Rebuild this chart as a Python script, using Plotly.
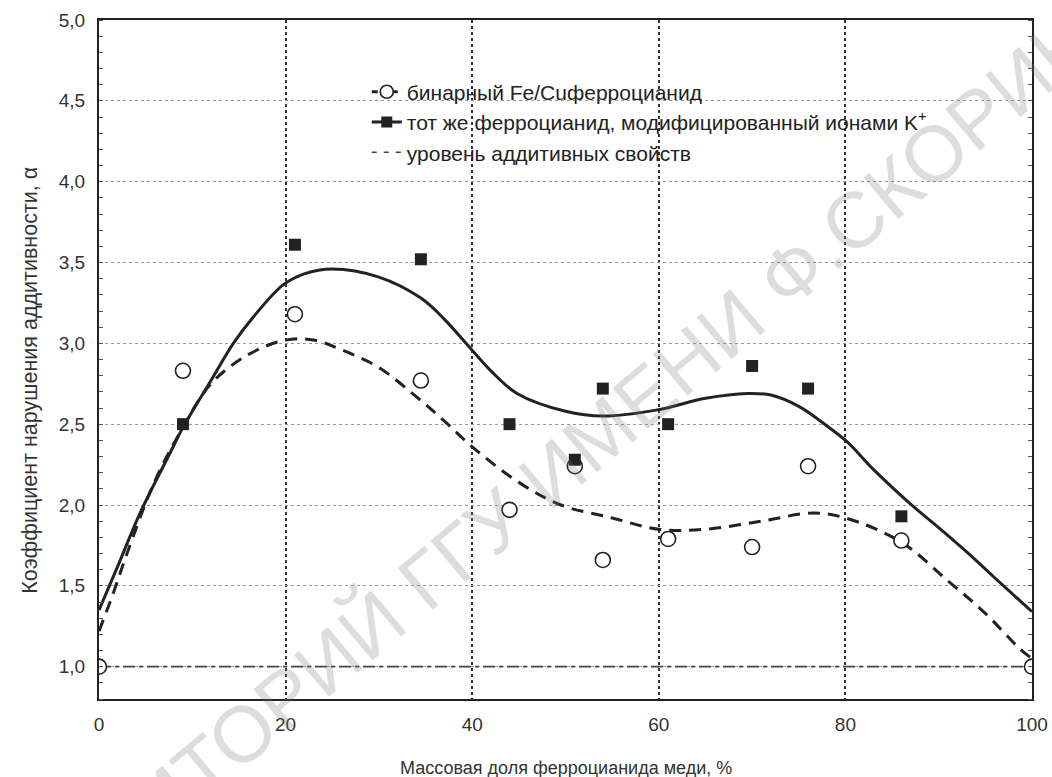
import plotly.graph_objects as go

# --- data ---
x_pts = [0, 9, 21, 34.5, 44, 51, 54, 61, 70, 76, 86, 100]
binary_y = [1.0, 2.83, 3.18, 2.77, 1.97, 2.24, 1.66, 1.79, 1.74, 2.24, 1.78, 1.0]

mod_x = [9, 21, 34.5, 44, 51, 54, 61, 70, 76, 86]
mod_y = [2.50, 3.61, 3.52, 2.50, 2.28, 2.72, 2.50, 2.86, 2.72, 1.93]

mod_fit_x = [0, 2, 4.4, 7.6, 9, 12, 14.4, 16.5, 19.7, 22, 25, 30, 34.5, 37, 39.8, 42, 44.8,
             50, 54, 60, 65, 69.5, 72, 75, 78, 80.2, 83, 86.9, 90, 93, 96, 100]
mod_fit_y = [1.35, 1.62, 1.95, 2.32, 2.48, 2.77, 3.0, 3.16, 3.36, 3.43, 3.46, 3.41, 3.28, 3.15, 2.97,
             2.83, 2.69, 2.58, 2.55, 2.59, 2.66, 2.69, 2.68, 2.61, 2.49, 2.39, 2.22, 2.01, 1.86,
             1.71, 1.55, 1.34]

bin_fit_x = [0, 1.5, 3, 6, 9, 12, 16, 20, 23, 26, 30, 34, 37, 40, 45, 49.5, 55, 60, 65, 71,
             76.5, 80, 86, 91, 95, 98.7, 100]
bin_fit_y = [1.22, 1.45, 1.70, 2.15, 2.48, 2.75, 2.93, 3.02, 3.02, 2.96, 2.85, 2.67, 2.52, 2.36,
             2.14, 2.0, 1.92, 1.85, 1.85, 1.9, 1.95, 1.92, 1.77, 1.53, 1.33, 1.11, 1.05]

additive_x = [0, 100]
additive_y = [1.0, 1.0]

x_ticks = [0, 20, 40, 60, 80, 100]
y_ticks = [1.0, 1.5, 2.0, 2.5, 3.0, 3.5, 4.0, 4.5, 5.0]

legend_names = ["бинарный Fe/Cuферроцианид",
                "тот же ферроцианид, модифицированный ионами K<sup>+</sup>",
                "уровень аддитивных свойств"]

INK = "#222222"
DASH = "12px,8px"
ADD_DASH = "12px,4px,4px,4px"

fig = go.Figure()

fig.add_trace(go.Scatter(x=additive_x, y=additive_y, mode="lines",
                         line=dict(color="#444444", width=1.6, dash=ADD_DASH),
                         showlegend=False, hoverinfo="skip"))
fig.add_trace(go.Scatter(x=bin_fit_x, y=bin_fit_y, mode="lines", line_shape="spline",
                         line=dict(color=INK, width=3, dash=DASH),
                         showlegend=False, hoverinfo="skip"))
fig.add_trace(go.Scatter(x=mod_fit_x, y=mod_fit_y, mode="lines", line_shape="spline",
                         line=dict(color=INK, width=3),
                         showlegend=False, hoverinfo="skip"))
fig.add_trace(go.Scatter(x=x_pts, y=binary_y, mode="markers",
                         marker=dict(symbol="circle", size=15, color="white",
                                     line=dict(color=INK, width=1.6)),
                         showlegend=False))
fig.add_trace(go.Scatter(x=mod_x, y=mod_y, mode="markers",
                         marker=dict(symbol="square", size=12, color=INK,
                                     line=dict(color=INK, width=0)),
                         showlegend=False))

# legend-only entries
fig.add_trace(go.Scatter(x=[None], y=[None], mode="lines+markers", name=legend_names[0],
                         line=dict(color=INK, width=3, dash="6px,4px"),
                         marker=dict(symbol="circle", size=13, color="white",
                                     line=dict(color=INK, width=1.6))))
fig.add_trace(go.Scatter(x=[None], y=[None], mode="lines+markers", name=legend_names[1],
                         line=dict(color=INK, width=3),
                         marker=dict(symbol="square", size=11, color=INK)))
fig.add_trace(go.Scatter(x=[None], y=[None], mode="lines", name=legend_names[2],
                         line=dict(color="#444444", width=1.5, dash="5px,7px")))

fig.update_layout(
    width=1052, height=777,
    margin=dict(l=99, r=20, t=20, b=78, autoexpand=False),
    paper_bgcolor="white", plot_bgcolor="white",
    separators=", ",
    font=dict(family="Liberation Sans, Arial, sans-serif", color="#222222"),
    showlegend=True,
    legend=dict(x=0.287, y=0.924, xanchor="left", yanchor="top",
                bgcolor="rgba(0,0,0,0)", borderwidth=0,
                font=dict(size=21, color="#222222"),
                traceorder="normal", itemwidth=30),
)

fig.update_xaxes(range=[0, 100], tickvals=x_ticks, ticks="", automargin=False,
                 showline=True, linecolor=INK, linewidth=2, mirror=True,
                 showgrid=True, gridcolor="#333333", griddash="dot", gridwidth=1.5,
                 zeroline=False, ticklabelstandoff=7,
                 tickfont=dict(size=19, color="#333333"))
fig.update_yaxes(range=[0.8, 5.0], tickvals=y_ticks, tickformat=".1f", ticks="", automargin=False,
                 showline=True, linecolor=INK, linewidth=2, mirror="ticks",
                 showgrid=True, gridcolor="#9a9a9a", griddash="dot", gridwidth=1,
                 zeroline=False, ticklabelstandoff=8,
                 tickfont=dict(size=19, color="#333333"),
                 minor=dict(dtick=0.1, ticks="inside", ticklen=4, tickcolor="#555555",
                            showgrid=False))

# axis titles
fig.add_annotation(text="Массовая доля ферроцианида меди, %", xref="paper", yref="paper",
                   x=0.5, y=-0.102, xanchor="center", yanchor="middle", showarrow=False,
                   font=dict(size=18, color="#333333"))
fig.add_annotation(text="Коэффициент нарушения аддитивности, α", xref="paper", yref="paper",
                   x=-0.074, y=0.47, xanchor="center", yanchor="middle", showarrow=False,
                   textangle=-90, font=dict(size=21.5, color="#333333"))

# watermark
fig.add_annotation(text="РЕПОЗИТОРИЙ ГГУ ИМЕНИ Ф.СКОРИНЫ", xref="paper", yref="paper",
                   x=0.468, y=0.312, xanchor="center", yanchor="middle", showarrow=False,
                   textangle=-40, font=dict(size=79, color="rgba(120,120,120,0.25)"))

fig.write_html("out.html", config={"displayModeBar": False},
               post_script="document.body.style.margin='0';")
